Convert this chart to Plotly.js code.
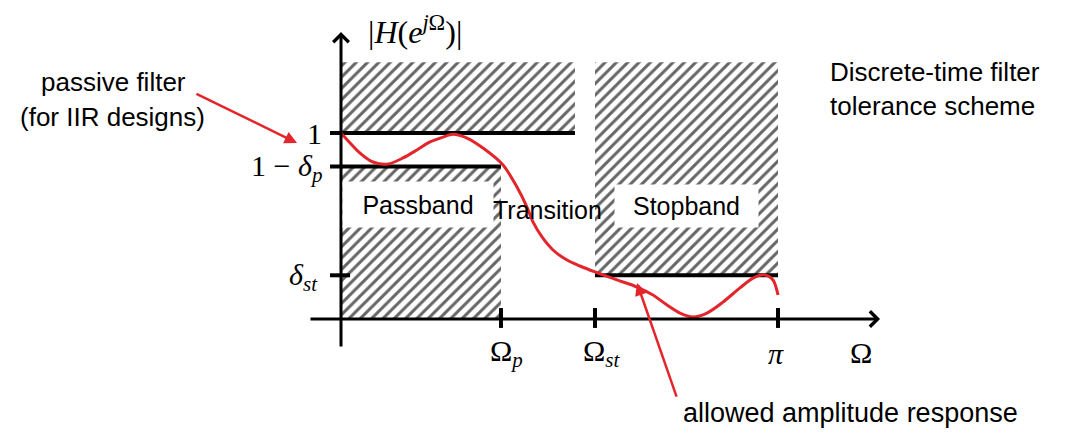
<!DOCTYPE html>
<html>
<head>
<meta charset="utf-8">
<script src="https://cdn.plot.ly/plotly-3.0.1.min.js"></script>
<style>html,body{margin:0;padding:0;background:#fff;}#chart{width:1065px;height:436px;}</style>
</head>
<body>
<div id="chart"></div>
<script>
// ---- data (frequency in rad, magnitude normalised) ----
const omegaP = 1.150;          // passband edge
const omegaSt = 1.826;         // stopband edge
const omegaEnd = Math.PI;      // pi
const passUpper = 1.0;         // 1
const deltaP = 0.18;           // 1 - deltaP = lower passband limit
const deltaSt = 0.235;         // stopband limit
const hatchTop = 1.38;         // top of the forbidden (hatched) regions
const upperLimitEnd = 1.682;   // where the "1" limit line ends

// allowed amplitude response (red curve)
const curveX = [0, 0.137, 0.230, 0.338, 0.446, 0.546, 0.640, 0.733, 0.805, 0.906, 1.021, 1.165, 1.265, 1.337, 1.380, 1.445, 1.524, 1.625, 1.718, 1.826, 1.984, 2.128, 2.243, 2.344, 2.437, 2.531, 2.631, 2.746, 2.868, 2.962, 3.048, 3.106, 3.142];
const curveY = [1.0, 0.892, 0.844, 0.833, 0.866, 0.909, 0.952, 0.978, 0.993, 0.973, 0.919, 0.828, 0.710, 0.602, 0.522, 0.441, 0.371, 0.317, 0.285, 0.253, 0.210, 0.172, 0.129, 0.075, 0.032, 0.011, 0.032, 0.091, 0.167, 0.220, 0.237, 0.210, 0.129];

// pointer arrows: [tail, tip]
const passiveArrowX = [-1.050, -0.316];
const passiveArrowY = [1.215, 0.946];
const responseArrowX = [2.416, 2.128];
const responseArrowY = [-0.425, 0.194];

// tick labels
const xTickVals = [omegaP, omegaSt, omegaEnd];
const xTickText = ['Ω<sub><i>p</i></sub>', 'Ω<sub><i>st</i></sub>', '<i>π</i>'];
const yTickVals = [passUpper, passUpper - deltaP, deltaSt];
const yTickText = ['1', '1 − <i>δ</i><sub><i>p</i></sub>', '<i>δ</i><sub><i>st</i></sub>'];
const xAxisTitle = 'Ω';
const yAxisTitle = '|<i>H</i>(<i>e</i><sup><i>j</i>Ω</sup>)|';
const bandLabels = ['Passband', 'Transition', 'Stopband'];

// ---- drawing ----
const RED = '#e3262b';
const SERIF = '"Liberation Serif", "DejaVu Serif", serif';
const SANS = '"Liberation Sans", Arial, sans-serif';
const tickLeft = -0.079, tickRight = 0.065;
const axisXmin = -0.230, axisXmax = 3.875, axisYmin = -0.156, axisYmax = 1.543;

function rect(x0, x1, y0, y1) {
  return {x: [x0, x1, x1, x0, x0], y: [y0, y0, y1, y1, y0]};
}
function hatch(r) {
  return {
    type: 'scatter', mode: 'lines', x: r.x, y: r.y, fill: 'toself',
    line: {width: 0, color: 'rgba(0,0,0,0)'},
    fillcolor: 'rgba(0,0,0,0)',
    fillpattern: {shape: '/', size: 8, solidity: 0.38, fgcolor: '#666666', bgcolor: 'white'},
    hoverinfo: 'skip', showlegend: false
  };
}
function hline(x0, x1, y) {
  return {type: 'scatter', mode: 'lines', x: [x0, x1], y: [y, y],
    line: {color: 'black', width: 4}, hoverinfo: 'skip', showlegend: false};
}

const traces = [
  hatch(rect(0, upperLimitEnd, passUpper, hatchTop)),
  hatch(rect(0, omegaP, 0, passUpper - deltaP)),
  hatch(rect(omegaSt, omegaEnd, deltaSt, hatchTop)),
  hline(tickLeft, upperLimitEnd, passUpper),
  hline(tickLeft, omegaP, passUpper - deltaP),
  hline(omegaSt, omegaEnd, deltaSt),
  {type: 'scatter', mode: 'lines', x: curveX, y: curveY,
   line: {color: RED, width: 3, shape: 'spline', smoothing: 0.8},
   hoverinfo: 'skip', showlegend: false}
];

const shapes = [];
xTickVals.forEach(v => shapes.push({type: 'line', xref: 'x', yref: 'y', x0: v, x1: v, y0: -0.048, y1: 0.059, line: {color: 'black', width: 4}}));
shapes.push({type: 'line', xref: 'x', yref: 'y', x0: tickLeft, x1: tickRight, y0: deltaSt, y1: deltaSt, line: {color: 'black', width: 4}});

const annotations = [];
// axes with arrows
annotations.push({x: 0, y: axisYmax, ax: 0, ay: axisYmin, xref: 'x', yref: 'y', axref: 'x', ayref: 'y', text: '', showarrow: true, arrowhead: 4, arrowwidth: 3, arrowsize: 1, arrowcolor: 'black'});
annotations.push({x: axisXmax, y: 0, ax: axisXmin, ay: 0, xref: 'x', yref: 'y', axref: 'x', ayref: 'y', text: '', showarrow: true, arrowhead: 4, arrowwidth: 3, arrowsize: 1, arrowcolor: 'black'});
// red pointer arrows
annotations.push({x: passiveArrowX[1], y: passiveArrowY[1], ax: passiveArrowX[0], ay: passiveArrowY[0], xref: 'x', yref: 'y', axref: 'x', ayref: 'y', text: '', showarrow: true, arrowhead: 2, arrowwidth: 2.5, arrowsize: 1, arrowcolor: RED});
annotations.push({x: responseArrowX[1], y: responseArrowY[1], ax: responseArrowX[0], ay: responseArrowY[0], xref: 'x', yref: 'y', axref: 'x', ayref: 'y', text: '', showarrow: true, arrowhead: 2, arrowwidth: 2.5, arrowsize: 1, arrowcolor: RED});

// x tick labels
const xShift = [6, 6, -2];
xTickVals.forEach((v, i) => annotations.push({x: v, y: -0.185, xref: 'x', yref: 'y', text: xTickText[i], showarrow: false, xanchor: 'center', yanchor: 'middle', xshift: xShift[i], font: {family: SERIF, size: 30, color: 'black'}}));
annotations.push({x: 3.738, y: -0.18, xref: 'x', yref: 'y', text: xAxisTitle, showarrow: false, xanchor: 'center', yanchor: 'middle', font: {family: SERIF, size: 30, color: 'black'}});
// y tick labels
const yShift = [0, -2, -2];
const yXShift = [0, 0, -4];
yTickVals.forEach((v, i) => annotations.push({x: -0.12, y: v, xref: 'x', yref: 'y', text: yTickText[i], showarrow: false, xanchor: 'right', yanchor: 'middle', yshift: yShift[i], xshift: yXShift[i], font: {family: SERIF, size: 30, color: 'black'}}));
annotations.push({x: 0.53, y: 1.554, xref: 'x', yref: 'y', text: yAxisTitle, showarrow: false, xanchor: 'center', yanchor: 'middle', font: {family: SERIF, size: 32, color: 'black'}});

// band labels
annotations.push({x: 0.554, y: 0.616, xref: 'x', yref: 'y', text: bandLabels[0], showarrow: false, bgcolor: 'white', width: 148, height: 43, font: {family: SANS, size: 25, color: 'black'}});
annotations.push({x: 1.488, y: 0.586, xref: 'x', yref: 'y', text: bandLabels[1], showarrow: false, font: {family: SANS, size: 25, color: 'black'}});
annotations.push({x: 2.484, y: 0.608, xref: 'x', yref: 'y', text: bandLabels[2], showarrow: false, bgcolor: 'white', width: 141, height: 40, font: {family: SANS, size: 25, color: 'black'}});

// free texts
annotations.push({x: -1.639, y: 1.274, xref: 'x', yref: 'y', text: 'passive filter', showarrow: false, font: {family: SANS, size: 26, color: 'black'}});
annotations.push({x: -1.646, y: 1.086, xref: 'x', yref: 'y', text: '(for IIR designs)', showarrow: false, font: {family: SANS, size: 26, color: 'black'}});
annotations.push({x: 3.501, y: 1.237, xref: 'x', yref: 'y', text: 'Discrete-time filter<br>tolerance scheme', showarrow: false, xanchor: 'left', align: 'left', font: {family: SANS, size: 26, color: 'black'}});
annotations.push({x: 3.666, y: -0.505, xref: 'x', yref: 'y', text: 'allowed amplitude response', showarrow: false, font: {family: SANS, size: 27, color: 'black'}});

const layout = {
  width: 1065, height: 436,
  margin: {l: 0, r: 0, t: 0, b: 0, pad: 0},
  paper_bgcolor: 'white', plot_bgcolor: 'white',
  showlegend: false,
  xaxis: {range: [-2.4515, 5.2049], visible: false, fixedrange: true},
  yaxis: {range: [-0.629, 1.7151], visible: false, fixedrange: true},
  shapes: shapes,
  annotations: annotations
};

Plotly.newPlot('chart', traces, layout, {staticPlot: true, displayModeBar: false});
</script>
</body>
</html>
